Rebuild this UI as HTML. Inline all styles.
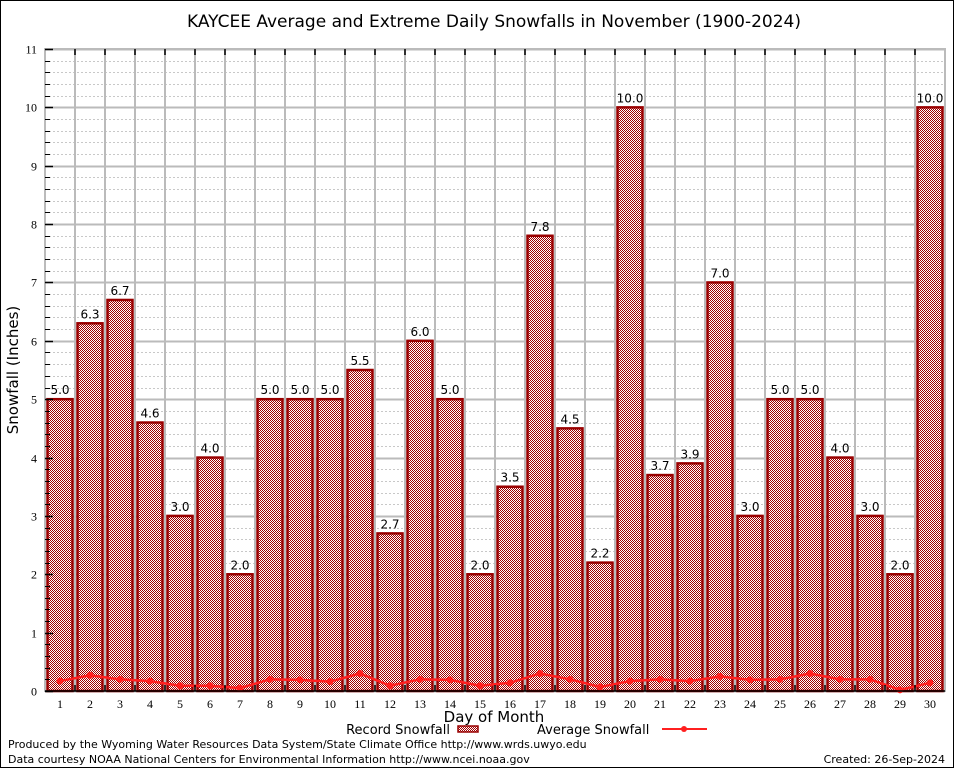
<!DOCTYPE html>
<html><head><meta charset="utf-8"><style>
body{margin:0;background:#fff;}
svg{display:block;font-family:"DejaVu Sans","Liberation Sans",sans-serif;}
</style></head><body>
<svg id="chart" width="954" height="768" viewBox="0 0 954 768">
<defs>
<pattern id="chk" width="2" height="2" patternUnits="userSpaceOnUse">
<rect width="2" height="2" fill="#fff"/>
<rect width="1" height="1" fill="#a00000"/>
<rect x="1" y="1" width="1" height="1" fill="#a00000"/>
</pattern>
</defs>
<rect x="0.5" y="0.5" width="953" height="767" fill="#fff" stroke="#000"/>
<text x="494" y="27" text-anchor="middle" font-size="17">KAYCEE Average and Extreme Daily Snowfalls in November (1900-2024)</text>
<g id="grid"></g>
<g id="bars"></g>
<g id="avg"></g>
<g id="axes"></g>
<text x="18" y="370" transform="rotate(-90 18 370)" text-anchor="middle" font-size="15">Snowfall (Inches)</text>
<text x="494" y="722" text-anchor="middle" font-size="15">Day of Month</text>
<g>
<text x="450" y="734" text-anchor="end" font-size="13">Record Snowfall</text>
<rect x="458" y="726" width="20" height="6" fill="url(#chk)" stroke="#990000" stroke-width="1.5"/>
<text x="537" y="734" font-size="13">Average Snowfall</text>
<line x1="662" y1="729" x2="707" y2="729" stroke="#ff2020" stroke-width="2"/>
<circle cx="684" cy="729" r="3" fill="#ff2020"/>
</g>
<text x="8" y="748" font-size="11">Produced by the Wyoming Water Resources Data System/State Climate Office http://www.wrds.uwyo.edu</text>
<text x="8" y="763" font-size="11">Data courtesy NOAA National Centers for Environmental Information http://www.ncei.noaa.gov</text>
<text x="945" y="763" text-anchor="end" font-size="11">Created: 26-Sep-2024</text>
</svg>
<script>
const days = [1,2,3,4,5,6,7,8,9,10,11,12,13,14,15,16,17,18,19,20,21,22,23,24,25,26,27,28,29,30];
const recordSnow = [5.0,6.3,6.7,4.6,3.0,4.0,2.0,5.0,5.0,5.0,5.5,2.7,6.0,5.0,2.0,3.5,7.8,4.5,2.2,10.0,3.7,3.9,7.0,3.0,5.0,5.0,4.0,3.0,2.0,10.0];
const avgSnow = [0.17,0.27,0.2,0.17,0.09,0.09,0.05,0.2,0.19,0.16,0.3,0.09,0.2,0.19,0.09,0.14,0.3,0.2,0.07,0.17,0.2,0.17,0.25,0.19,0.2,0.3,0.2,0.2,0.02,0.14];
const yTicks = [0,1,2,3,4,5,6,7,8,9,10,11];

const NS='http://www.w3.org/2000/svg';
const L=45,R=945,T=49,B=691,YMAX=11;
const x=d=>L+(d-0.5)*(R-L)/30;
const y=v=>B-v*(B-T)/YMAX;
function mk(tag,attrs,parent){const e=document.createElementNS(NS,tag);for(const k in attrs)e.setAttribute(k,attrs[k]);parent.appendChild(e);return e;}
const grid=document.getElementById('grid'),bars=document.getElementById('bars'),avg=document.getElementById('avg'),axes=document.getElementById('axes');

for(let v=0;v<YMAX;v+=1){for(let m=1;m<5;m++){const yy=Math.round(y(v+m*0.2))+0.5;
const l=mk('line',{x1:L,x2:R,y1:yy,y2:yy,stroke:'#c8c8c8','stroke-width':1,'stroke-dasharray':'2,2'},grid);


const t=mk('line',{x1:L,x2:L+5,y1:yy,y2:yy,stroke:'#000','stroke-width':1},axes);

}}
yTicks.forEach(v=>{const yy=Math.round(y(v))+0.5;
const l=mk('line',{x1:L,x2:R,y1:yy,y2:yy,stroke:'#bbb','stroke-width':2},grid);


const t=mk('text',{x:L-8,y:yy+4,'text-anchor':'end','font-size':12,'font-family':'Liberation Serif,serif'},axes);
t.textContent=v;


const tk=mk('line',{x1:L,x2:L+8,y1:yy,y2:yy,stroke:'#000','stroke-width':1.5},axes);

});
for(let i=1;i<30;i++){const xx=Math.round(x(i+0.5));
const l=mk('line',{x1:xx,x2:xx,y1:T,y2:B,stroke:'#bbb','stroke-width':2},grid);


const t1=mk('line',{x1:xx,x2:xx,y1:T,y2:T+6,stroke:'#000','stroke-width':1.5},axes);


const t2=mk('line',{x1:xx,x2:xx,y1:B-6,y2:B,stroke:'#000','stroke-width':1.5},axes);

}
const fr=mk('rect',{x:L,y:T,width:R-L,height:B-T,fill:'none',stroke:'#bbb','stroke-width':2},grid);



days.forEach((d,i)=>{const v=recordSnow[i],cx=x(d);
const r=mk('rect',{x:cx-12.5,y:y(v),width:25,height:B-y(v),fill:'url(#chk)',stroke:'#990000','stroke-width':2.5},bars);


const t=mk('text',{x:cx,y:y(v)-5,'text-anchor':'middle','font-size':12},bars);
t.textContent=v.toFixed(1);


const xl=mk('text',{x:cx,y:B+17,'text-anchor':'middle','font-size':12,'font-family':'Liberation Serif,serif'},axes);
xl.textContent=d;

});
const base=mk('line',{x1:L,x2:R,y1:B,y2:B,stroke:'#000','stroke-width':1.5},axes);



const pts=days.map((d,i)=>x(d)+','+y(avgSnow[i])).join(' ');
const pl=mk('polyline',{points:pts,fill:'none',stroke:'#ff2020','stroke-width':2.5},avg);


days.forEach((d,i)=>{const c=mk('circle',{cx:x(d),cy:y(avgSnow[i]),r:3.5,fill:'#ff2020'},avg);

});
</script>
</body></html>
